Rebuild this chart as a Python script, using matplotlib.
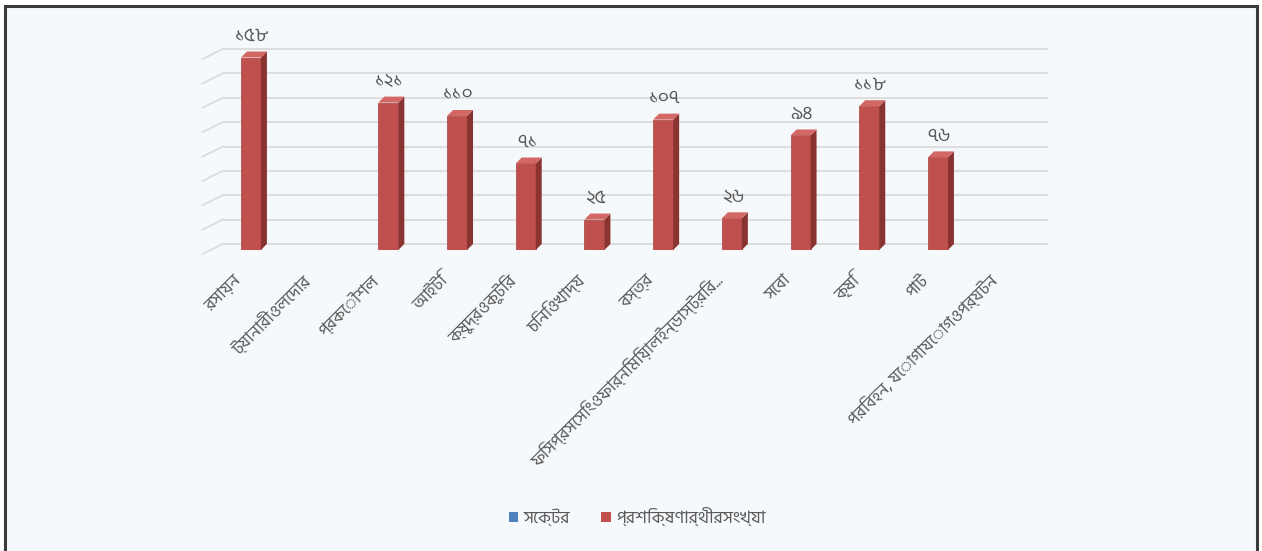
#!/usr/bin/env python3
"""
Sector-wise trainee count - 3D style column chart (Excel look).
"""

import matplotlib
matplotlib.use('Agg')
import matplotlib.pyplot as plt
import numpy as np
from matplotlib.patches import Polygon, Rectangle, Patch

plt.rcParams['font.family'] = ['Hind Siliguri', 'DejaVu Sans']

# ---------------- data ----------------
SECTORS = [
    'রসায়ন',
    'ট্যানারীওলেদার',
    'প্রকৌশল',
    'আইটি',
    'ক্ষুদ্রওকুটির',
    'চিনিওখাদ্য',
    'বস্ত্র',
    'ফিসপ্রসেসিংওফার্নিমিয়ালইন্ডাস্ট্রির...',
    'সেবা',
    'কৃষি',
    'পাট',
    'পরিবহন, যোগাযোগওপর্যটন',
]
TRAINEES = [158, 0, 121, 110, 71, 25, 107, 26, 94, 118, 76, 0]
GRID_VALUES = [0, 20, 40, 60, 80, 100, 120, 140, 160]
LEGEND_LABELS = ['সেক্টর', 'প্রশিক্ষণার্থীরসংখ্যা']

# Office-style colours
BAR_FRONT = '#C0504D'
BAR_SIDE = '#8A3431'
BAR_TOP = '#D36764'
SECTOR_BLUE = '#4F81BD'
TEXT_GRAY = '#595959'
GRID_GRAY = '#DDDDDD'
PANEL_BG = '#F6F9FC'

BN_DIGITS = str.maketrans('0123456789', '০১২৩৪৫৬৭৮৯')


def bn(n):
    return str(n).translate(BN_DIGITS)


def main():
    W, H, DPI = 12.62, 5.51, 100
    fig = plt.figure(figsize=(W, H), dpi=DPI, facecolor='white')

    # outer framed panel
    fig.add_artist(Rectangle((4.5 / 1262, -0.05), (1257 - 4.5) / 1262, 1.05 - 5.5 / 551,
                             transform=fig.transFigure, facecolor=PANEL_BG,
                             edgecolor='#3A3A3A', linewidth=2.2, zorder=0))

    ax_l, ax_b, ax_w, ax_h = 0.1716, 0.5463, 0.6533, 0.3648
    ax = fig.add_axes([ax_l, ax_b, ax_w, ax_h])
    ax.set_facecolor('none')
    for s in ax.spines.values():
        s.set_visible(False)

    n = len(SECTORS)
    x = np.arange(n)
    xmin, xmax = -0.5, n - 0.5
    ymin, ymax = 0, 165
    ax.set_xlim(xmin, xmax)
    ax.set_ylim(ymin, ymax)

    # pixel -> data unit conversion for the depth effect
    px_x = (xmax - xmin) / (ax_w * W * DPI)
    px_y = (ymax - ymin) / (ax_h * H * DPI)
    depth_x, depth_y = 6 * px_x, 6 * px_y

    # back wall gridlines + left side wall slant
    for v in GRID_VALUES:
        y_back = v + depth_y
        ax.plot([xmin + depth_x, xmax + depth_x], [y_back, y_back],
                color=GRID_GRAY, linewidth=1.4, clip_on=False, zorder=1)
        ax.plot([xmin + depth_x, xmin - 14 * px_x], [y_back, y_back - 10 * px_y],
                color=GRID_GRAY, linewidth=1.4, clip_on=False, zorder=1)

    # columns: front face + side + top
    bar_w = 20 * px_x
    ax.bar(x, TRAINEES, width=bar_w, color=BAR_FRONT, edgecolor='#A8403D',
           linewidth=0.5, zorder=3)
    for xi, v in zip(x, TRAINEES):
        if v <= 0:
            continue
        r = xi + bar_w / 2
        l = xi - bar_w / 2
        side = Polygon([(r, 0), (r + depth_x, depth_y), (r + depth_x, v + depth_y), (r, v)],
                       closed=True, facecolor=BAR_SIDE, edgecolor='none', zorder=3)
        top = Polygon([(l, v), (l + depth_x, v + depth_y), (r + depth_x, v + depth_y), (r, v)],
                      closed=True, facecolor=BAR_TOP, edgecolor='none', zorder=3)
        ax.add_patch(side)
        ax.add_patch(top)
        ax.annotate(bn(v), (xi, v), xytext=(1, 9), textcoords='offset points',
                    ha='center', va='bottom', fontsize=14, color=TEXT_GRAY)

    # axes ticks
    ax.set_yticks([])
    ax.set_xticks(x)
    ax.set_xticklabels(SECTORS, rotation=45, ha='right', va='center',
                       rotation_mode='anchor', fontsize=12.5, color=TEXT_GRAY)
    ax.tick_params(axis='x', length=0, pad=20)
    offset = matplotlib.transforms.ScaledTranslation(-12 / DPI, 0, fig.dpi_scale_trans)
    for lab in ax.get_xticklabels():
        lab.set_transform(lab.get_transform() + offset)

    # legend
    handles = [Patch(facecolor=SECTOR_BLUE, edgecolor='none'),
               Patch(facecolor=BAR_FRONT, edgecolor='none')]
    leg = fig.legend(handles, LEGEND_LABELS, loc='center', bbox_to_anchor=(0.505, 0.062),
                     ncol=2, frameon=False, fontsize=12.5, handlelength=0.55,
                     handleheight=0.55, handletextpad=0.3, columnspacing=1.8)
    for t in leg.get_texts():
        t.set_color(TEXT_GRAY)

    fig.savefig('out.png', dpi=DPI, facecolor=fig.get_facecolor())
    plt.close(fig)


if __name__ == '__main__':
    main()
